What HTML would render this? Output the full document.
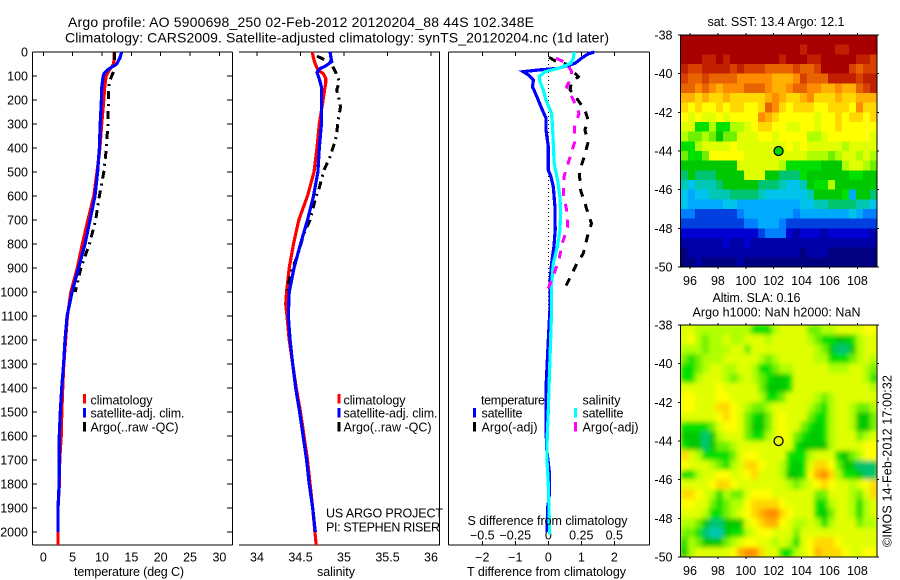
<!DOCTYPE html>
<html>
<head>
<meta charset="utf-8">
<title>Argo profile</title>
<style>
html,body{margin:0;padding:0;background:#fff;}
svg{display:block;}
text{font-family:"Liberation Sans",sans-serif;font-size:12.5px;fill:#000;}
text.head{font-size:14px;}
</style>
</head>
<body>
<svg id="chart" xmlns="http://www.w3.org/2000/svg" width="900" height="580" viewBox="0 0 900 580">
<defs>
<filter id="soft" x="-5%" y="-5%" width="110%" height="110%"><feGaussianBlur stdDeviation="2.4"/></filter>
<clipPath id="altClip"><rect x="681" y="325" width="196" height="232"/></clipPath>
</defs>
<rect x="0" y="0" width="900" height="580" fill="#fff"/>
<g id="plots"></g>
<g id="maps"></g>
<g id="labels">
<text class="head" x="68" y="27" textLength="466">Argo profile: AO 5900698_250 02-Feb-2012 20120204_88 44S 102.348E</text>
<text class="head" x="65" y="42.5" textLength="544">Climatology: CARS2009. Satellite-adjusted climatology: synTS_20120204.nc (1d later)</text>

<text x="74" y="576" textLength="110">temperature (deg C)</text>
<text x="317" y="576" textLength="38">salinity</text>
<text x="467" y="576" textLength="159">T difference from climatology</text>
<text x="467.5" y="525" textLength="160">S difference from climatology</text>

<g>
<rect x="83" y="394" width="3" height="9.5" fill="#ff0000"/>
<text x="90.5" y="404.5" textLength="62">climatology</text>
<rect x="83" y="408" width="3" height="9.5" fill="#0000ff"/>
<text x="90.5" y="417.5" textLength="94">satellite-adj. clim.</text>
<rect x="83" y="422" width="3" height="9.5" fill="#000"/>
<text x="90.5" y="431.5" textLength="88">Argo(..raw -QC)</text>
</g>
<g>
<rect x="337.5" y="394" width="3" height="9.5" fill="#ff0000"/>
<text x="343.5" y="404.5" textLength="62">climatology</text>
<rect x="337.5" y="408" width="3" height="9.5" fill="#0000ff"/>
<text x="343.5" y="417.5" textLength="94">satellite-adj. clim.</text>
<rect x="337.5" y="422" width="3" height="9.5" fill="#000"/>
<text x="343.5" y="431.5" textLength="88">Argo(..raw -QC)</text>
</g>
<text x="326" y="517.5" textLength="117">US ARGO PROJECT</text>
<text x="326" y="531.5" textLength="114">PI: STEPHEN RISER</text>

<g>
<text x="481" y="404.5" textLength="64">temperature</text>
<rect x="473" y="408" width="3" height="9.5" fill="#0000ff"/>
<text x="481.5" y="417.5" textLength="41">satellite</text>
<rect x="473" y="422" width="3" height="9.5" fill="#000"/>
<text x="481.5" y="431.5" textLength="56">Argo(-adj)</text>
<text x="582.5" y="404.5" textLength="38">salinity</text>
<rect x="574" y="408" width="3" height="9.5" fill="#00ffff"/>
<text x="582.5" y="417.5" textLength="41">satellite</text>
<rect x="574" y="422" width="3" height="9.5" fill="#ff00ff"/>
<text x="582.5" y="431.5" textLength="56">Argo(-adj)</text>
</g>

<text x="707.5" y="26" textLength="137">sat. SST: 13.4 Argo: 12.1</text>
<text x="712.5" y="302" textLength="88">Altim. SLA: 0.16</text>
<text x="692.5" y="316.5" textLength="168">Argo h1000: NaN h2000: NaN</text>
<text transform="translate(891.5,547) rotate(-90)" textLength="172">©IMOS 14-Feb-2012 17:00:32</text>
</g>
</svg>
<script>
// ----- Profile data -----
const depthTempClim = [0,50,80,100,150,200,300,400,500,600,700,800,900,1000,1100,1200,1300,1400,1500,1600,1700,1800,1900,2054];
const tempClim = [12.1,12.0,11.1,10.7,10.45,10.3,9.95,9.65,9.15,8.6,7.6,6.65,5.8,4.7,4.1,3.8,3.5,3.3,3.15,3.05,2.8,2.75,2.5,2.5];
const depthTempSat = [0,25,50,75,90,100,150,200,300,400,500,600,700,800,900,1000,1100,1200,1300,1400,1500,1600,1700,1800,1900,2000];
const tempSat = [13.35,13.05,12.5,10.9,10.35,10.2,9.95,9.9,9.7,9.55,9.25,8.8,7.95,7.1,6.0,4.9,4.05,3.7,3.45,3.13,2.9,2.73,2.73,2.7,2.5,2.5];
const depthTempArgo = [0,25,50,80,100,130,200,300,400,500,600,700,800,900,1000];
const tempArgo = [12.1,12.15,12.2,12.0,11.65,11.15,11.1,11.0,10.75,10.3,9.55,8.93,7.85,6.4,5.45];

const depthSalClim = [0,25,50,75,90,110,130,150,200,300,400,500,600,650,700,800,900,1000,1050,1100,1200,1300,1400,1500,1600,1700,1800,1900,2000,2054];
const salClim = [34.636,34.648,34.67,34.70,34.762,34.79,34.79,34.78,34.76,34.716,34.69,34.655,34.58,34.53,34.48,34.42,34.37,34.34,34.33,34.345,34.37,34.41,34.45,34.5,34.54,34.58,34.61,34.64,34.665,34.68];
const depthSalSat = [0,25,40,50,60,70,85,100,130,150,200,300,400,500,600,700,800,900,1000,1100,1200,1300,1400,1500,1600,1700,1800,1900,2000];
const salSat = [34.84,34.85,34.86,34.82,34.78,34.72,34.69,34.705,34.73,34.743,34.74,34.74,34.716,34.70,34.65,34.58,34.50,34.425,34.37,34.36,34.38,34.41,34.445,34.49,34.53,34.57,34.60,34.64,34.67];
const depthSalArgo = [17,33,43,60,89,124,158,193,228,283,353,394,436,492,561,617,700,756,839,908,992];
const salArgo = [34.69,34.78,34.85,34.87,34.91,34.946,34.916,34.94,34.96,34.935,34.91,34.877,34.84,34.77,34.72,34.667,34.61,34.54,34.475,34.4,34.34];

const depthDiffTSat = [0,8,26,47,68,75,82,96,117,144,186,242,276,325,394,492,519,561,644,742,811,881,964,1075,1200,1400,1550,1650,1750,1850,1900,2000];
const diffTSat = [1.39,1.21,1.01,0.81,0.30,-0.3,-0.76,-0.6,-0.45,-0.48,-0.35,-0.18,-0.07,-0.07,0,0,0.08,0.15,0.2,0.21,0.17,0.10,0.05,0.05,0,-0.07,-0.07,-0.05,0.03,0.03,-0.02,-0.04];
const depthDiffSSat = [0,26,47,64,82,103,124,158,200,256,325,464,533,603,672,742,811,881,964,1075,1400,1500,1600,1700,1800,1900,2010];
const diffSSat = [0.195,0.19,0.17,0.1,-0.025,-0.068,-0.063,-0.038,-0.018,0.025,0.033,0.045,0.07,0.088,0.094,0.088,0.07,0.038,0.025,0.025,0.005,0,-0.008,-0.01,0,0.005,0.01];
const depthDiffTArgo = [22,40,47,54,82,103,131,158,193,242,283,325,374,436,499,575,631,714,756,839,889,985];
const diffTArgo = [0.02,0.25,0.45,0.65,0.76,0.91,0.69,0.66,0.86,1.11,1.21,1.11,1.21,1.09,0.94,0.98,1.11,1.31,1.21,1.06,0.84,0.5];
const depthDiffSArgo = [26,40,47,82,117,144,200,256,311,381,464,519,589,658,728,797,867,922,985];
const diffSArgo = [0.058,0.114,0.14,0.177,0.165,0.139,0.19,0.233,0.2,0.197,0.15,0.12,0.114,0.139,0.147,0.106,0.08,0.045,0];

// ----- Tick data -----
const depthTicks = [0,100,200,300,400,500,600,700,800,900,1000,1100,1200,1300,1400,1500,1600,1700,1800,1900,2000];
const tempTicks = [0,5,10,15,20,25,30];
const salTicks = [34,34.5,35,35.5,36];
const diffTTicks = [-2,-1,0,1,2];
const diffSTicks = [-0.5,-0.25,0,0.25,0.5];
const diffSLabels = ['\u22120.5','\u22120.25','0','0.25','0.5'];
const diffTLabels = ['\u22122','\u22121','0','1','2'];
const lonTicks = [96,98,100,102,104,106,108];
const latTicks = [-38,-40,-42,-44,-46,-48,-50];
const floatLon = [102.348];
const floatLat = [-44];

// ----- Map data: palette level per 0.5 degree cell, north to south -----
const sstCells = [
[21,21,21,21,21,21,21,21,21,21,21,21,21,21,21,21,21,21,21,21,21,21,21,21,21,21,21,21],
[21,21,21,21,21,21,21,21,21,21,21,21,21,21,21,21,21,20,21,21,21,21,20,20,21,21,21,21],
[21,21,21,20,20,21,20,21,21,21,21,21,21,21,20,21,21,21,20,20,21,21,21,21,21,20,20,19],
[20,19,19,20,20,20,20,19,20,19,19,19,18,18,18,18,19,18,18,19,21,21,21,21,19,18,19,19],
[19,18,18,19,18,18,18,18,17,17,17,17,17,16,16,16,17,19,18,18,18,20,20,20,20,19,20,20],
[18,18,17,18,17,16,17,17,17,18,18,18,17,16,16,17,18,18,17,17,16,16,17,16,16,18,19,20],
[16,16,15,16,15,15,16,15,15,15,15,15,16,17,16,15,15,16,17,15,15,15,16,15,15,16,16,16],
[15,14,15,14,14,15,14,15,15,14,14,15,18,17,15,14,15,15,15,14,14,15,15,15,14,17,15,15],
[14,13,14,13,13,14,13,14,14,14,14,17,16,15,14,14,14,14,14,13,14,14,15,14,15,15,14,15],
[13,13,10,10,12,10,10,12,12,13,14,15,15,14,14,13,13,14,14,13,14,14,15,14,14,14,14,14],
[12,11,11,12,11,9,11,11,13,13,13,14,14,13,14,14,14,14,12,12,13,14,14,14,14,14,14,13],
[10,10,12,13,13,13,13,14,13,13,13,13,13,13,13,14,13,14,13,13,13,13,13,12,13,13,13,13],
[11,10,10,11,14,14,14,14,14,13,13,13,13,13,13,13,13,13,12,12,12,11,12,13,13,12,13,12],
[9,9,9,9,9,9,9,9,13,13,13,13,13,13,12,10,10,10,10,10,9,9,9,12,13,13,12,11],
[8,9,8,8,8,9,9,9,9,13,13,13,9,9,8,8,8,10,9,9,9,9,9,9,10,10,9,9],
[7,6,7,7,7,8,9,9,9,9,9,8,8,8,7,6,6,7,9,10,10,12,9,9,9,9,9,9],
[6,5,6,6,7,7,7,8,8,8,8,7,6,6,6,6,6,6,7,9,9,9,9,10,5,9,9,8],
[6,5,5,5,5,5,6,6,5,5,5,5,5,5,5,5,5,6,6,7,7,8,8,8,8,7,7,6],
[4,4,3,3,3,3,3,3,4,5,5,5,5,5,5,5,4,5,5,5,5,5,5,5,6,5,4,4],
[3,3,3,3,3,3,3,3,3,4,4,5,5,5,4,3,3,3,3,3,3,3,3,3,3,3,3,3],
[2,2,2,2,2,2,2,2,2,2,2,3,4,4,4,2,1,2,2,2,1,2,2,2,2,2,2,1],
[1,1,1,1,1,1,2,1,1,2,1,1,1,1,1,1,1,1,1,1,1,1,1,1,1,1,1,1],
[0,1,1,1,1,1,1,1,1,1,1,1,1,1,1,1,1,0,1,1,1,0,0,0,0,0,0,0],
[0,0,1,0,0,0,0,0,1,0,0,0,0,0,0,0,0,0,0,0,0,0,0,0,0,0,0,0]
];
const slaCells = [
[13,13,12,12,12,12,12,12,12,12,10,10,10,12,13,13,13,13,11,11,12,12,13,13,13,13,14,14],
[13,14,12,11,12,12,13,12,12,13,13,13,12,13,13,13,13,13,12,11,10,10,9,9,10,12,13,13],
[12,12,12,11,12,12,12,13,13,11,13,13,13,13,13,13,13,13,13,12,11,9,8,8,9,12,13,13],
[11,10,11,12,12,12,13,13,13,13,13,12,11,12,13,13,13,13,13,12,12,10,10,10,11,12,13,12],
[10,10,11,12,13,13,12,12,13,13,12,10,10,11,12,12,13,13,13,13,13,12,12,12,13,13,12,11],
[10,10,12,13,13,13,12,11,12,13,12,11,10,9,9,10,13,13,13,13,13,13,13,13,13,13,12,10],
[13,13,13,13,13,14,13,13,13,13,13,11,9,9,9,10,13,13,13,13,13,13,13,13,13,13,13,12],
[14,14,13,13,13,14,14,13,13,13,13,12,10,10,11,13,13,13,13,12,11,12,13,13,13,13,13,13],
[14,14,13,13,13,15,15,14,13,12,11,11,12,13,13,13,13,13,12,11,10,12,13,13,12,11,11,12],
[13,13,13,13,13,14,15,14,13,11,10,9,11,13,14,13,13,13,11,10,10,12,13,13,12,9,9,11],
[10,10,10,10,11,13,14,14,13,11,9,9,11,13,14,13,13,11,10,9,10,12,13,13,12,9,9,11],
[9,9,9,8,9,12,13,13,13,11,10,10,12,13,14,13,11,10,9,9,10,12,13,13,13,11,12,13],
[10,9,9,8,9,11,11,12,13,13,13,13,13,13,13,13,10,9,9,9,9,12,13,13,13,13,14,14],
[15,13,12,10,10,10,10,11,13,14,14,13,13,13,13,10,10,10,12,13,13,13,10,9,11,12,14,14],
[14,13,13,13,12,11,10,12,13,15,15,14,13,13,12,10,9,10,13,15,15,14,11,9,9,8,8,8],
[10,10,12,13,13,14,14,13,13,14,15,13,13,13,12,9,9,10,14,16,17,15,12,10,10,9,8,8],
[13,13,13,13,14,15,15,14,13,13,13,13,13,13,13,12,11,12,13,14,15,14,13,13,12,13,14,15],
[15,15,14,13,12,10,12,11,11,13,14,14,14,13,13,13,13,13,13,11,11,13,13,13,12,11,13,15],
[14,14,13,13,11,10,11,12,12,14,15,15,15,15,14,13,13,13,13,10,10,12,13,13,12,10,12,13],
[13,13,13,12,10,10,11,12,13,14,15,16,17,17,15,14,13,13,13,10,9,11,13,13,12,10,12,13],
[12,12,11,9,8,8,9,9,9,13,14,15,16,16,14,13,12,12,13,12,10,12,13,13,13,11,12,12],
[11,11,10,8,7,7,9,10,10,12,13,14,14,13,13,13,11,13,13,13,13,13,13,13,13,13,13,13],
[10,12,11,9,9,9,11,12,13,14,14,13,13,12,13,12,10,13,14,15,15,15,14,13,13,13,13,13],
[9,12,13,13,13,13,13,14,16,17,17,15,13,13,10,10,12,13,14,16,15,15,15,14,13,13,14,14]
];
const mapPalette = ['#000080','#0000a8','#0000d0','#0040e0','#0080ff','#00aaff','#00c4ec','#00c8b4','#00c470','#00c800','#00e000','#70f000','#b0ff00','#e0ff00','#ffff00','#ffd800','#ffb000','#ff8c00','#e86400','#d84000','#c02000','#a80000'];

// ----- Scales -----
const NS = 'http://www.w3.org/2000/svg';
const yDepth = d => 52 + d * 0.24;
const xTemp = v => 43.3 + v * 5.87;
const xSal = v => 257 + (v - 34) * 87;
const xDiffT = v => 548.3 + v * 33;
const xDiffS = v => 548.3 + v * 132;
const plots = document.getElementById('plots');
const maps = document.getElementById('maps');

function make(tag, parent, attrs) {
  const el = document.createElementNS(NS, tag);
  for (const k in attrs) el.setAttribute(k, attrs[k]);
  parent.appendChild(el);
  return el;
}
function seg(parent, x1, y1, x2, y2, w) {
  const el = make('line', parent, {x1, y1, x2, y2, stroke: '#000', 'stroke-width': w || 1, 'shape-rendering': 'crispEdges'});
  
  
  return el;
}
function label(parent, x, y, str, anchor) {
  const el = make('text', parent, {x, y, 'text-anchor': anchor || 'middle'});
  el.textContent = str;
  
  
  return el;
}
function profile(parent, name, xs, depths, xf, color, width, dash) {
  const pts = xs.map((v, i) => xf(v).toFixed(1) + ',' + yDepth(depths[i]).toFixed(1)).join(' ');
  const el = make('polyline', parent, {points: pts, fill: 'none', stroke: color, 'stroke-width': width, 'shape-rendering': 'crispEdges'});
  if (dash) el.setAttribute('stroke-dasharray', dash);
  
  
  return el;
}

// Panel 1: temperature
seg(plots, 32.5, 52, 232.5, 52);
seg(plots, 32.5, 545, 232.5, 545);
seg(plots, 32.5, 52, 32.5, 545);
seg(plots, 232.5, 52, 232.5, 545);
depthTicks.forEach(d => {
  seg(plots, 33, yDepth(d), 37, yDepth(d));
  seg(plots, 227, yDepth(d), 232, yDepth(d));
  label(plots, 28, yDepth(d) + 4.5, String(d), 'end');
});
tempTicks.forEach(v => {
  seg(plots, xTemp(v), 52, xTemp(v), 56);
  label(plots, xTemp(v), 561.5, String(v));
});
profile(plots, 'temperature-climatology-line', tempClim, depthTempClim, xTemp, '#ff0000', 3.2);
profile(plots, 'temperature-argo-line', tempArgo, depthTempArgo, xTemp, '#000', 3, '8 5 2 5');
profile(plots, 'temperature-satellite-line', tempSat, depthTempSat, xTemp, '#0000ff', 3.2);

// Panel 2: salinity
seg(plots, 239, 52, 440, 52);
seg(plots, 239, 545, 440, 545);
seg(plots, 439.5, 52, 439.5, 545);
salTicks.forEach(v => {
  seg(plots, xSal(v), 52, xSal(v), 56);
  label(plots, xSal(v), 561.5, String(v));
});
profile(plots, 'salinity-climatology-line', salClim, depthSalClim, xSal, '#ff0000', 3.2);
profile(plots, 'salinity-argo-line', salArgo, depthSalArgo, xSal, '#000', 3, '8 5 2 5');
profile(plots, 'salinity-satellite-line', salSat, depthSalSat, xSal, '#0000ff', 3.2);

// Panel 3: differences
seg(plots, 448.5, 52, 649.5, 52);
seg(plots, 448.5, 545, 649.5, 545);
seg(plots, 448.5, 52, 448.5, 545);
seg(plots, 649.5, 52, 649.5, 545);
diffTTicks.forEach((v, i) => {
  seg(plots, xDiffT(v), 52, xDiffT(v), 56);
  seg(plots, xDiffT(v), 541, xDiffT(v), 545);
  label(plots, xDiffT(v), 561.5, diffTLabels[i]);
});
diffSTicks.forEach((v, i) => {
  label(plots, xDiffS(v), 539.5, diffSLabels[i]);
});
const zero = make('line', plots, {x1: xDiffT(0), y1: 52, x2: xDiffT(0), y2: 330, stroke: '#000', 'stroke-width': 1, 'stroke-dasharray': '1 3', 'shape-rendering': 'crispEdges'});


profile(plots, 't-diff-argo-line', diffTArgo, depthDiffTArgo, xDiffT, '#000', 3, '8 8');
profile(plots, 't-diff-satellite-line', diffTSat, depthDiffTSat, xDiffT, '#0000ff', 3.2);
profile(plots, 's-diff-satellite-line', diffSSat, depthDiffSSat, xDiffS, '#00ffff', 3.2);
profile(plots, 's-diff-argo-line', diffSArgo, depthDiffSArgo, xDiffS, '#ff00ff', 3, '8 8');

// Maps
const xLon = v => 690 + (v - 96) * 13.95;
function drawMap(name, cells, top, smooth) {
  const yLat = v => top + (-38 - v) * 19.333;
  const left = 681, cw = 7, ch = 232 / 24;
  const holder = make('g', maps, {});
  
  
  let target = holder;
  if (smooth) {
    holder.setAttribute('clip-path', 'url(#altClip)');
    make('rect', holder, {x: left, y: top, width: 196, height: 232, fill: mapPalette[13]});
    target = make('g', holder, {filter: 'url(#soft)'});
  }
  cells.forEach((row, r) => {
    row.forEach((lev, c) => {
      const cell = make('rect', target, {x: left + c * cw, y: (top + r * ch).toFixed(2), width: cw + (smooth ? 0.3 : 0), height: (ch + 0.3).toFixed(2), fill: mapPalette[lev], 'shape-rendering': 'crispEdges'});
      
      
    });
  });
  seg(maps, 680.5, top, 877, top);
  seg(maps, 680.5, top + 232, 877, top + 232);
  seg(maps, 680.5, top, 680.5, top + 232);
  seg(maps, 877, top, 877, top + 232);
  lonTicks.forEach(v => {
    seg(maps, xLon(v), top - 2, xLon(v), top);
    seg(maps, xLon(v), top + 232, xLon(v), top + 234);
    label(maps, xLon(v), top + 250, String(v));
  });
  latTicks.forEach(v => {
    seg(maps, 678, yLat(v), 681, yLat(v));
    seg(maps, 877, yLat(v), 879, yLat(v));
    label(maps, 672.5, yLat(v) + 4.5, String(v), 'end');
  });
  return yLat;
}
const yLatSst = drawMap('sst', sstCells, 35, false);
const yLatSla = drawMap('sla', slaCells, 325, true);
const markerSst = make('circle', maps, {cx: xLon(floatLon[0]), cy: yLatSst(floatLat[0]), r: 4.5, fill: '#00d800', stroke: '#000', 'stroke-width': 1.3});


const markerSla = make('circle', maps, {cx: xLon(floatLon[0]), cy: yLatSla(floatLat[0]), r: 4.5, fill: 'none', stroke: '#000', 'stroke-width': 1.3});


</script>
</body>
</html>
